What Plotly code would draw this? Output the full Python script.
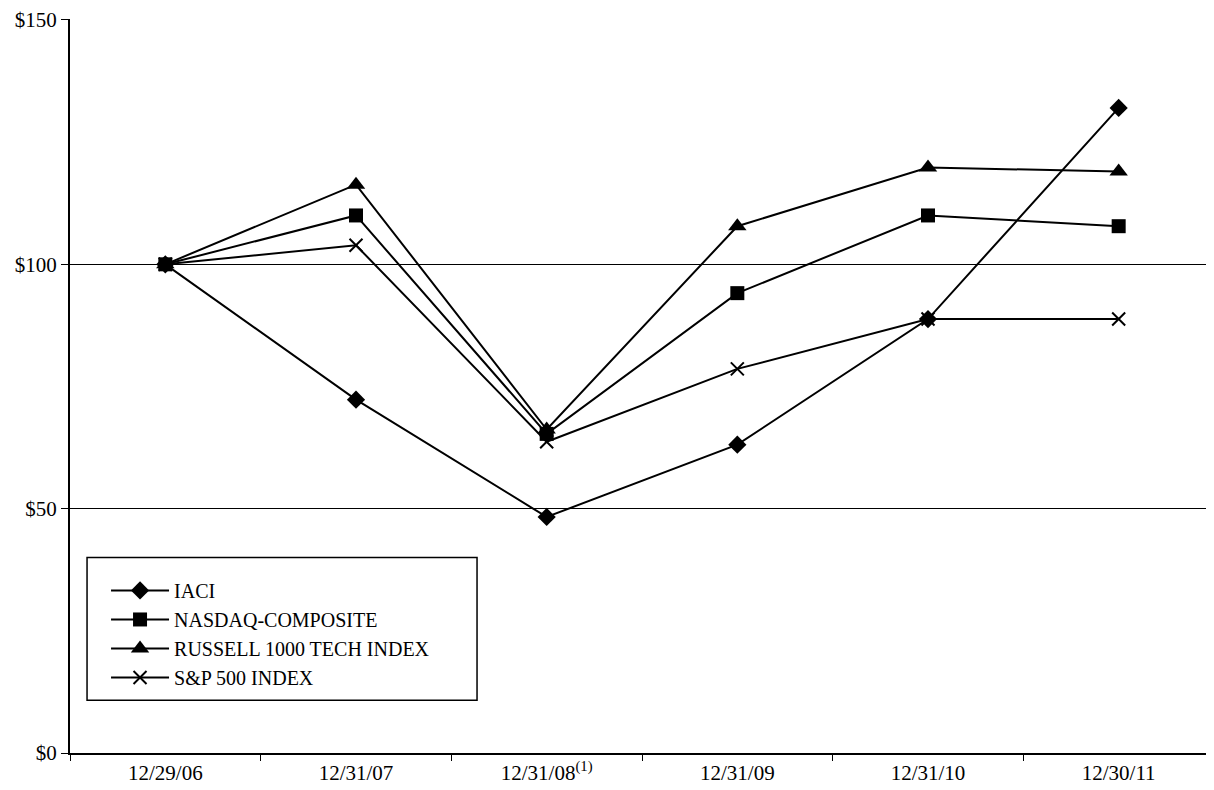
import plotly.graph_objects as go

categories = ["12/29/06", "12/31/07", "12/31/08<sup>(1)</sup>", "12/31/09", "12/31/10", "12/30/11"]
iaci = [100, 72.3, 48.3, 63.1, 88.8, 132.0]
nasdaq = [100, 110.0, 65.3, 94.1, 110.0, 107.8]
russell = [100, 116.3, 66.2, 107.8, 119.8, 119.0]
sp500 = [100, 103.9, 63.7, 78.6, 88.8, 88.8]

series = [
    ("IACI", iaci, dict(symbol="diamond", size=14)),
    ("NASDAQ-COMPOSITE", nasdaq, dict(symbol="square", size=14)),
    ("RUSSELL 1000 TECH INDEX", russell, dict(symbol="triangle-up", size=16)),
    ("S&P 500 INDEX", sp500, dict(symbol="x-thin", size=13, line=dict(width=2, color="black"))),
]

fig = go.Figure()
for name, vals, mk in series:
    fig.add_trace(go.Scatter(
        x=categories, y=vals, name=name, mode="lines+markers",
        line=dict(color="black", width=2),
        marker=dict(color="black", **mk),
        legendgroup=name,
    ))

serif = "Liberation Serif"
fig.add_shape(type="rect", xref="paper", yref="paper",
              x0=0.0149, x1=0.3558, y0=0.0720, y1=0.2663,
              line=dict(color="black", width=1.5), fillcolor="rgba(0,0,0,0)")
fig.update_layout(
    width=1206, height=782,
    margin=dict(l=62, r=0, t=9, b=37),
    paper_bgcolor="white", plot_bgcolor="white",
    font=dict(family=serif, size=21, color="black"),
    showlegend=True,
    legend=dict(
        x=0.0315, y=0.2480, xanchor="left", yanchor="top",
        borderwidth=0, bgcolor="rgba(0,0,0,0)",
        font=dict(family=serif, size=20, color="black"),
        tracegroupgap=0, itemwidth=58,
    ),
    xaxis=dict(
        type="category", showgrid=False, showline=True, linecolor="black", linewidth=2,
        ticks="outside", tickson="boundaries", ticklen=6, tickcolor="black",
        range=[-0.5, 5.5], zeroline=False,
        tickfont=dict(family=serif, size=21, color="black"),
    ),
    yaxis=dict(
        range=[0, 150.2], tickvals=[0, 50, 100, 150], ticktext=["$0", "$50", "$100", "$150"],
        ticklabeloverflow="allow",
        showgrid=True, gridcolor="black", gridwidth=1,
        showline=True, linecolor="black", linewidth=2, ticks="outside", ticklen=7, tickcolor="black",
        zeroline=False,
        tickfont=dict(family=serif, size=21, color="black"),
    ),
)
fig.write_html("out.html")
